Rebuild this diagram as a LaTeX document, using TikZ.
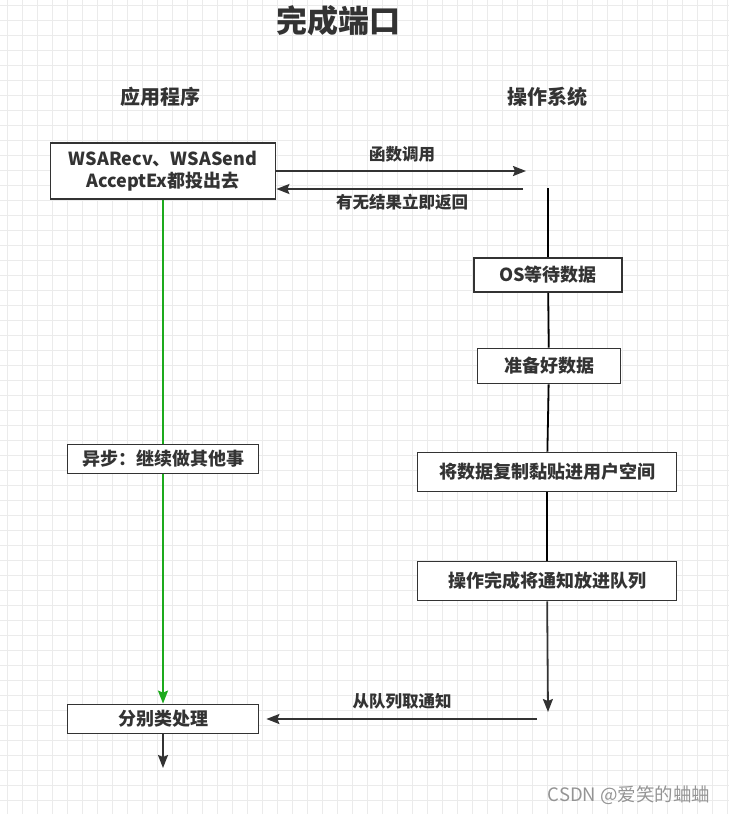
\documentclass[tikz,border=0pt]{standalone}
\usepackage{fontspec}
\setmainfont{Noto Sans CJK SC}
\usetikzlibrary{arrows.meta}
\definecolor{ink}{HTML}{333333}
\definecolor{gridgray}{HTML}{EBEBEB}
\definecolor{okgreen}{HTML}{1DAA1D}

\begin{document}
\begin{tikzpicture}[
    x=1pt, y=-1pt,
    line width=1.8pt,
    box/.style={draw=ink, fill=white, rectangle, inner sep=0pt, line width=1.8pt,
        text=ink, font=\fontsize{18}{22}\selectfont\bfseries},
    lbl/.style={text=ink, font=\fontsize{16.5}{19}\selectfont\bfseries},
    head/.style={text=ink, font=\fontsize{20}{24}\selectfont\bfseries},
    arr/.style={draw=ink, -{Stealth[length=13pt,width=10pt,inset=2pt]}}
]
\useasboundingbox (0,0) rectangle (729,814);
% grid in the background
\foreach \gx in {7,22,...,727} \draw[gridgray, line width=0.7pt] (\gx,0) -- (\gx,814);
\foreach \gy in {5,20,...,812} \draw[gridgray, line width=0.7pt] (0,\gy) -- (729,\gy);

% 1. Headings
\node[text=ink, font=\fontsize{31}{36}\selectfont\bfseries] (title) at (338,21) {完成端口};
\node[head] (app) at (160,97) {应用程序};
\node[head] (sys) at (547,97) {操作系统};

% 2. Application side
\node[box, minimum width=225pt, minimum height=56pt, align=center] (wsa) at (163,171)
    {WSARecv、WSASend\\AcceptEx都投出去};
\node[box, minimum width=191pt, minimum height=29pt] (async) at (163,459) {异步：继续做其他事};
\node[box, minimum width=191pt, minimum height=29pt] (handle) at (163,719) {分别类处理};

% 3. OS side
\node[box, minimum width=148pt, minimum height=34pt] (wait) at (548,275) {OS等待数据};
\node[box, minimum width=143pt, minimum height=35pt] (ready) at (549,366) {准备好数据};
\node[box, minimum width=259pt, minimum height=39pt] (copy) at (547,472) {将数据复制黏贴进用户空间};
\node[box, minimum width=259pt, minimum height=39pt] (queue) at (547,581) {操作完成将通知放进队列};

% 4. Routing
\coordinate (callEnd) at (526,171);
\coordinate (retStart) at (523,189);
\coordinate (osTop) at (548,188);
\coordinate (osEnd) at (548,712);
\coordinate (fetchStart) at (537,719);
\coordinate (outEnd) at (163,768);
\draw[arr] (wsa.east) -- (callEnd);
\draw[arr] (retStart) -- (wsa.east |- retStart);
\node[lbl] (callLbl) at (402,154) {函数调用};
\node[lbl] (retLbl) at (402,202) {有无结果立即返回};
\draw (osTop) -- (wait);
\draw (wait) -- (ready);
\draw (ready) -- (copy);
\draw (copy) -- (queue);
\draw[arr] (queue) -- (osEnd);
\draw[arr, shorten >=7pt] (fetchStart) -- (handle);
\node[lbl] (fetchLbl) at (402,701) {从队列取通知};
\draw[draw=okgreen] (wsa) -- (async);
\draw[arr, draw=okgreen] (async) -- (handle);
\draw[arr] (handle) -- (outEnd);

% 5. Watermark
\node[text=black!42, font=\fontsize{18.5}{22}\selectfont] (mark) at (629,795) {CSDN @爱笑的蛐蛐};
\end{tikzpicture}
\end{document}
